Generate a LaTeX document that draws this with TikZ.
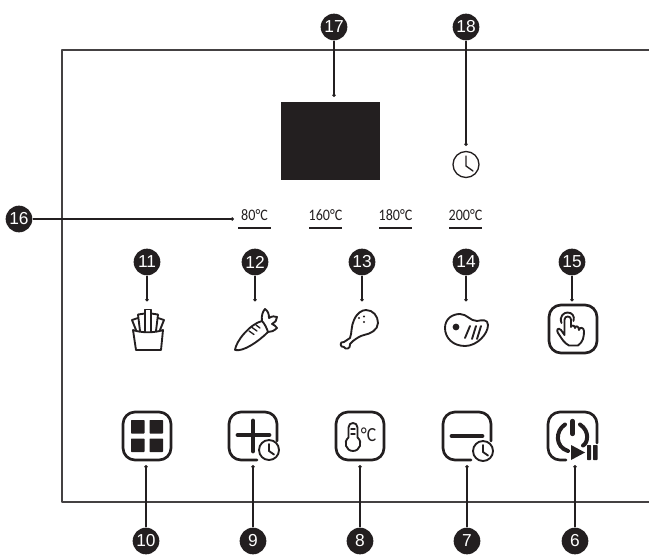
\documentclass[tikz,border=0pt]{standalone}
\usepackage{fontspec}
\setmainfont{Liberation Sans}
\newfontfamily\tempfont[FakeStretch=0.88]{Carlito}
\usetikzlibrary{arrows.meta}
\definecolor{inkblack}{HTML}{231F20}

\begin{document}
\begin{tikzpicture}[x=0.75pt, y=-0.75pt, line join=round, line cap=round,
    callout/.style={circle, fill=inkblack, text=white, inner sep=0pt,
                    minimum size=20pt, font=\fontsize{13}{14}\selectfont},
    leader/.style={inkblack, line width=0.8pt, line cap=butt, -{Circle[length=2.6pt]}},
    frameline/.style={inkblack!85, line width=1.3pt, line cap=butt},
    panel/.style={inkblack, line width=2pt, rounded corners=9pt},
    glyph/.style={inkblack, line width=1.4pt},
    bar/.style={inkblack, line width=3.6pt},
    templabel/.style={inner sep=0pt, text=inkblack, font=\tempfont\fontsize{12}{13}\selectfont},
    tempbar/.style={inkblack, line width=1.3pt, line cap=butt}]
  \useasboundingbox (0,0) rectangle (649,556);

  %% Housing outline
  \draw[frameline] (649,50) -- (62,50) -- (62,502) -- (649,502);

  %% Display and clock
  \node[fill=inkblack, minimum width=74.25pt, minimum height=58.5pt, inner sep=0pt] (display) at (330.5,141) {};
  \node[circle, draw=inkblack, line width=1pt, minimum size=19.5pt, inner sep=0pt] (clock) at (466,164.5) {};
  \draw[glyph, line width=1pt] (466,156) -- (466,166) -- (473,171);

  %% Top callouts
  \node[callout] (c17) at (334,27) {17};
  \node[callout] (c18) at (466,27) {18};
  \coordinate (e17) at (334,97);
  \coordinate (e18) at (466,146);
  \draw[leader] (c17) -- (e17);
  \draw[leader] (c18) -- (e18);

  %% Temperature row
  \foreach \tname/\tx/\tval in {a/254.5/80, b/325.5/160, c/395.5/180, d/465.5/200} {
    \node[templabel] (t\tname) at (\tx,215) {\tval°C};
    \draw[tempbar] (\tx-16.5,228) -- (\tx+16.5,228);
  }
  \node[callout] (c16) at (19,219) {16};
  \coordinate (e16) at (234,219);
  \draw[leader] (c16) -- (e16);

  %% Callouts for the two icon rows
  \foreach \num/\x in {11/147,12/255,13/362,14/466,15/572} {
    \node[callout] (c\num) at (\x,262) {\num};
    \coordinate (e\num) at (\x,301.5);
    \draw[leader] (c\num) -- (e\num);
  }
  \foreach \num/\x in {10/146,9/253,8/360,7/467,6/575} {
    \node[callout] (c\num) at (\x,541) {\num};
    \coordinate (e\num) at (\x,465);
    \draw[leader] (c\num) -- (e\num);
  }

  %% Fries
  \draw[glyph] (133,330) -- (136,350) -- (161,350) -- (163,330)
    .. controls (155,333) and (141,333) .. (133,330);
  \draw[glyph] (145,331) -- (145,309.5) -- (151,309.5) -- (151,331);
  \draw[glyph] (140,331) -- (138,314.5) -- (145,313.5);
  \draw[glyph] (156,331) -- (158,314.5) -- (151,313.5);
  \draw[glyph] (136,330) -- (132,320) -- (138,318);
  \draw[glyph] (160,330) -- (164,320) -- (158,318);

  %% Carrot
  \draw[glyph] (235,350) .. controls (236,341) and (250,324) .. (262,321)
    .. controls (265,324) and (267,329) .. (268,332)
    .. controls (258,342) and (243,352) .. (235,350);
  \draw[glyph] (262,321) .. controls (261,316) and (263,311) .. (265,309)
    .. controls (268,311) and (269,314) .. (269,318)
    .. controls (272,316) and (275,316) .. (277,317)
    .. controls (277,320) and (275,323) .. (272,324)
    .. controls (274,325) and (276,326) .. (277,328)
    .. controls (274,331) and (271,332) .. (268,332);
  \draw[glyph, line width=1pt] (249,331) -- (254,334.5) (252,327.5) -- (257,331) (256,325) -- (260,328);

  %% Drumstick
  \draw[glyph] (350,338) .. controls (352,333) and (351,326) .. (354,320)
    .. controls (357,313) and (362,310) .. (366,310)
    .. controls (373,310) and (378,316) .. (378,323)
    .. controls (378,330) and (370,334) .. (364,335)
    .. controls (360,336) and (357,338) .. (353,341)
    -- (350,344) .. controls (351,349) and (345,350) .. (344,347)
    .. controls (340,348) and (339,341) .. (344,342)
    -- (350,338);
  \foreach \dx/\dy in {359/318,364/316.5,364/322}
    \fill[inkblack] (\dx,\dy) circle (1.2);

  %% Steak
  \draw[glyph] (445,328) .. controls (445,319) and (452,314) .. (460,314)
    .. controls (467,314) and (470,321) .. (477,321)
    .. controls (482,320) and (488,319) .. (488,325)
    .. controls (488,334) and (477,346) .. (465,346)
    .. controls (453,346) and (445,338) .. (445,328) -- cycle;
  \fill[inkblack] (456,327) circle (3.4);
  \draw[glyph] (465,338) -- (470,326) (472,339) -- (476,326) (477,339) -- (481,326);

  %% Touch button
  \draw[panel] (549,305) rectangle (597,353);
  \draw[glyph] (561.5,323) .. controls (559,316) and (564,312.5) .. (567.5,312.5)
    .. controls (572,312.5) and (575,316) .. (573.5,321);
  \draw[glyph] (571,327) -- (571,319.5) .. controls (571,315.5) and (564.5,315.5) .. (564.5,319.5)
    -- (564.5,335) -- (561,330) .. controls (558,327) and (556,330) .. (558,333)
    .. controls (562,339) and (564,343) .. (569,345.5) -- (578,345.5)
    .. controls (583,342) and (584,337) .. (584,331)
    .. controls (584,327) and (579,327) .. (579,330)
    .. controls (579,325.5) and (575,325.5) .. (575,328)
    .. controls (575,325) and (571,325) .. (571,327);

  %% Menu button
  \draw[panel] (123,412) rectangle (171,460);
  \foreach \qx/\qy in {131/420,149.5/420,131/438.5,149.5/438.5}
    \fill[inkblack, rounded corners=0.4pt] (\qx,\qy) rectangle +(13.5,13.5);

  %% Time up
  \draw[panel] (277,441) -- (277,412) -- (229,412) -- (229,460) -- (257,460);
  \draw[bar] (238,435) -- (269,435) (253,421) -- (253,451);
  \draw[glyph, fill=white] (269,450) circle (10);
  \draw[glyph] (269,444) -- (269,451) -- (274,454.5);

  %% Temperature button
  \draw[panel] (336,412) rectangle (384,460);
  \draw[glyph] (348.5,437.5) -- (348.5,427.5) .. controls (348.5,421.5) and (357.5,421.5) .. (357.5,427.5)
    -- (357.5,437.5) .. controls (363,442) and (360,451) .. (353,451)
    .. controls (346,451) and (343,442) .. (348.5,437.5) -- cycle;
  \draw[glyph, line width=1.1pt] (351,429) -- (355,429) (351,434) -- (355,434);
  \node[inner sep=0pt, text=inkblack, font=\tempfont\fontsize{15}{16}\selectfont] (degc) at (368.5,435) {°C};

  %% Time down
  \draw[panel] (491,441) -- (491,412) -- (443,412) -- (443,460) -- (471,460);
  \draw[bar] (452,436) -- (482,436);
  \draw[glyph, fill=white] (483,451) circle (10);
  \draw[glyph] (483,445) -- (483,452) -- (488,455.5);

  %% Power and play button
  \draw[panel] (597,443) -- (597,412) -- (548,412) -- (548,460) -- (566,460);
  \draw[bar, line width=3.2pt] (572.5,421) -- (572.5,434);
  \draw[inkblack, line width=3pt] (580,424.5) .. controls (590,431) and (588,443) .. (583,445.5);
  \draw[inkblack, line width=3pt] (565,424.5) .. controls (555,431) and (555,447) .. (568,451);
  \fill[inkblack] (571,445) -- (585,452.5) -- (571,460) -- cycle;
  \fill[inkblack, rounded corners=0.5pt] (587,445) rectangle (591,460);
  \fill[inkblack, rounded corners=0.5pt] (593,445) rectangle (597.5,460);
\end{tikzpicture}
\end{document}
